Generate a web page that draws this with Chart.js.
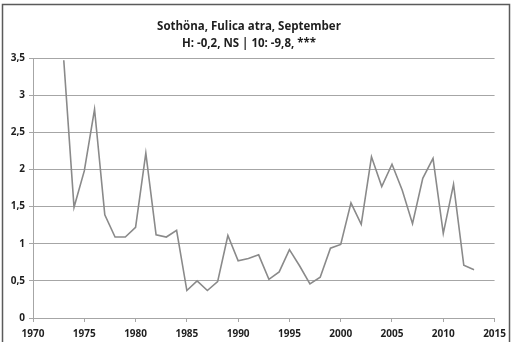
<!DOCTYPE html>
<html>
<head>
<meta charset="utf-8">
<script src="https://cdn.jsdelivr.net/npm/chart.js@4/dist/chart.umd.min.js"></script>
<style>
  html, body { margin: 0; padding: 0; background: #fff; }
  canvas { display: block; }
</style>
</head>
<body>
<canvas id="cootChart" width="512" height="342"></canvas>
<script>
const titleLines = ["Sothöna, Fulica atra, September", "H: -0,2, NS | 10: -9,8, ***"];
const years = [
    1973, 1974, 1975, 1976, 1977, 1978, 1979, 1980, 1981, 1982,
    1983, 1984, 1985, 1986, 1987, 1988, 1989, 1990, 1991, 1992,
    1993, 1994, 1995, 1996, 1997, 1998, 1999, 2000, 2001, 2002,
    2003, 2004, 2005, 2006, 2007, 2008, 2009, 2010, 2011, 2012, 2013
];
const indexValues = [
    3.47, 1.49, 1.98, 2.81, 1.39, 1.09, 1.09, 1.22, 2.22, 1.12,
    1.09, 1.18, 0.37, 0.50, 0.37, 0.49, 1.11, 0.77, 0.80, 0.85,
    0.52, 0.62, 0.92, 0.70, 0.46, 0.55, 0.94, 0.99, 1.55, 1.26,
    2.17, 1.77, 2.07, 1.72, 1.27, 1.88, 2.15, 1.14, 1.80, 0.71, 0.65
];
const xRange = [1970, 2015];
const yRange = [0, 3.5];

const gridGrey = "#a6a6a6";
const textColor = "#1e1e1e";
const labelFont = { family: "'Open Sans', Lato, sans-serif", size: 10, weight: "bold" };

// thin frame round the whole chart
const framePlugin = {
    id: "frame",
    beforeDraw(chart) {
        const ctx = chart.ctx;
        ctx.save();
        ctx.fillStyle = "#fff";
        ctx.fillRect(0, 0, chart.width, chart.height);
        ctx.strokeStyle = "#5a5a5a";
        ctx.lineWidth = 1.5;
        ctx.strokeRect(2.5, 4.5, 507, 400);
        ctx.restore();
    }
};

const ctx = document.getElementById("cootChart").getContext("2d");
new Chart(ctx, {
    type: "line",
    data: {
        datasets: [{
            data: years.map((y, i) => ({ x: y, y: indexValues[i] })),
            borderColor: "#8a8a8a",
            borderWidth: 1.6,
            pointRadius: 0,
            tension: 0,
            fill: false
        }]
    },
    options: {
        responsive: false,
        animation: false,
        layout: { padding: { left: 0, right: 14, top: 0, bottom: 0 } },
        plugins: {
            legend: { display: false },
            tooltip: { enabled: false },
            title: {
                display: true,
                text: titleLines,
                color: textColor,
                font: { family: "'Open Sans', Lato, sans-serif", size: 11.5, weight: "bold", lineHeight: 17 / 11.5 },
                padding: { top: 18, bottom: 6 }
            }
        },
        scales: {
            x: {
                type: "linear",
                min: xRange[0],
                max: xRange[1],
                afterFit: s => { s.height = 24; },
                border: { display: true, color: gridGrey },
                grid: { drawOnChartArea: false, drawTicks: true, tickLength: 4, color: gridGrey },
                ticks: {
                    stepSize: 5,
                    color: textColor,
                    font: labelFont,
                    padding: 6,
                    maxRotation: 0,
                    callback: v => String(v)
                }
            },
            y: {
                min: yRange[0],
                max: yRange[1],
                afterFit: s => { s.width = 33; },
                border: { display: true, color: gridGrey },
                grid: { color: gridGrey, tickLength: 4 },
                ticks: {
                    stepSize: 0.5,
                    color: textColor,
                    font: labelFont,
                    padding: 4,
                    callback: v => String(v).replace(".", ",")
                }
            }
        }
    },
    plugins: [framePlugin]
});
</script>
</body>
</html>
